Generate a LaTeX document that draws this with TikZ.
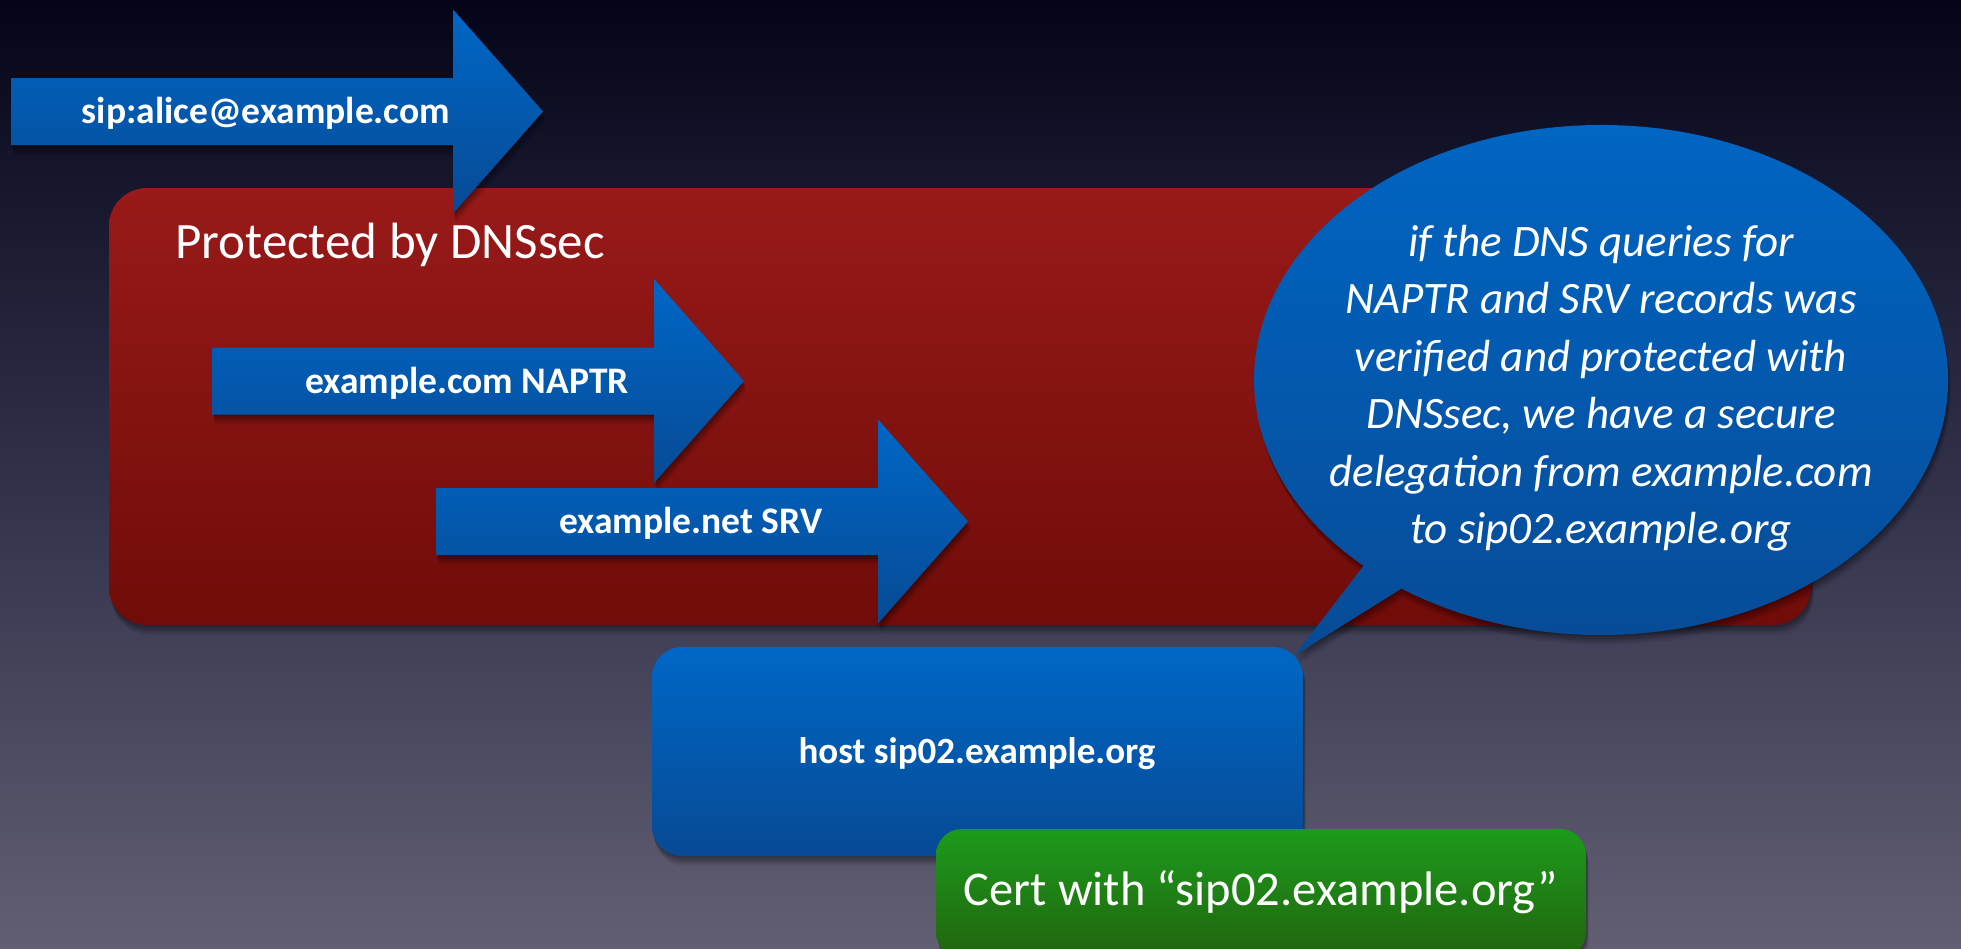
\documentclass[tikz,border=0pt]{standalone}
\usepackage{fontspec}
\setmainfont{Carlito}
\definecolor{bgtop}{HTML}{050519}
\definecolor{bgmid}{HTML}{30304A}
\definecolor{bgbot}{HTML}{625F72}
\definecolor{redtop}{HTML}{981A19}
\definecolor{redbot}{HTML}{700C09}
\definecolor{bluetop}{HTML}{0067C6}
\definecolor{bluebot}{HTML}{074A95}
\definecolor{greentop}{HTML}{1C9B1B}
\definecolor{greenbot}{HTML}{22640F}
\pgfdeclareverticalshading{bgshade}{100bp}{color(0bp)=(bgbot); color(25bp)=(bgbot); color(50bp)=(bgmid); color(75bp)=(bgtop); color(100bp)=(bgtop)}
\newcommand\flowarrow[4]{%
  \shade[arrowfill] (#2,#3+33.5) -- (#2+442,#3+33.5) -- (#2+442,#3+102)
     -- (#2+532,#3) -- (#2+442,#3-102) -- (#2+442,#3-33.5) -- (#2,#3-33.5) -- cycle;
  \node[arrowtext] (#1) at (#2+255,#3-12) {#4};
}
\begin{document}
\begin{tikzpicture}[x=1pt,y=1pt,
  softshadow/.style={
    preaction={fill=black, opacity=0.10, transform canvas={xshift=1pt, yshift=-2pt}},
    preaction={fill=black, opacity=0.10, transform canvas={xshift=1pt, yshift=-4pt}},
    preaction={fill=black, opacity=0.10, transform canvas={xshift=2pt, yshift=-6pt}},
    preaction={fill=black, opacity=0.08, transform canvas={xshift=2pt, yshift=-8pt}},
    preaction={fill=black, opacity=0.06, transform canvas={xshift=3pt, yshift=-10pt}}},
  arrowfill/.style={top color=bluetop, bottom color=bluebot, softshadow},
  arrowtext/.style={text=white, font=\bfseries\fontsize{37.5}{44}\selectfont, inner sep=0pt, anchor=base},
  boxtext/.style={text=white, inner sep=0pt, anchor=base}]
\useasboundingbox (0,0) rectangle (1961,-948);
\shade[shading=bgshade] (0,0) rectangle (1961,-948);
% red protected area
\shade[top color=redtop, bottom color=redbot, rounded corners=38pt, softshadow]
  (109,-188) rectangle (1811,-625);
\node[boxtext, anchor=base west, font=\fontsize{51}{60}\selectfont] (dnssec) at (175,-258) {Protected by DNSsec};
% arrows
\flowarrow{uri}{11}{-111.5}{sip:alice@example.com}
\flowarrow{naptr}{212}{-381}{example.com NAPTR}
\flowarrow{srv}{436}{-521.5}{example.net SRV}
% host box
\shade[top color=bluetop, bottom color=bluebot, rounded corners=30pt, softshadow]
  (652,-647) rectangle (1303,-856);
\node[boxtext, font=\bfseries\fontsize{37}{44}\selectfont] (host) at (977,-763) {host sip02.example.org};
% speech bubble
\shade[top color=bluetop, bottom color=bluebot, softshadow]
  (1401.5,-588.6) arc[start angle=234.9, end angle=586.8, x radius=347, y radius=255]
  -- (1295,-655) -- cycle;
\node[text=white, align=center, inner sep=0pt, font=\itshape\fontsize{45}{57.5}\selectfont] (bubble) at (1601,-388)
  {if the DNS queries for\\NAPTR and SRV records was\\verified and protected with\\DNSsec, we have a secure\\delegation from example.com\\to sip02.example.org};
% certificate box
\shade[top color=greentop, bottom color=greenbot, rounded corners=26pt, softshadow]
  (936,-829) rectangle (1586,-958);
\node[boxtext, font=\fontsize{48.5}{56}\selectfont] (cert) at (1261,-905) {Cert with “sip02.example.org”};
\end{tikzpicture}
\end{document}
